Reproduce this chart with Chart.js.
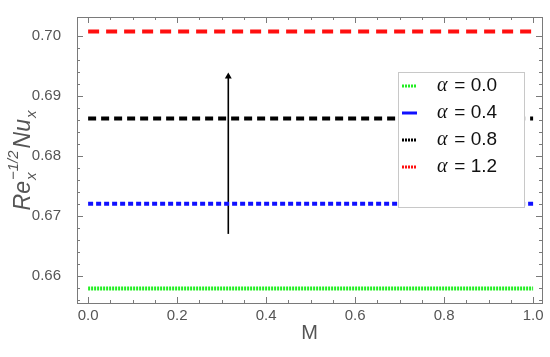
<!DOCTYPE html>
<html>
<head>
<meta charset="utf-8">
<script src="https://cdn.jsdelivr.net/npm/chart.js@4.4.0/dist/chart.umd.min.js"></script>
<style>
  html, body { margin: 0; padding: 0; background: #fff; }
  #wrap { width: 550px; height: 357px; }
</style>
</head>
<body>
<div id="wrap"><canvas id="chart"></canvas></div>
<script>
// values
const mValues = [0, 1];
const alphaLabels = ['α = 0.0', 'α = 0.4', 'α = 0.8', 'α = 1.2'];
const nuAlpha00 = [0.6579, 0.6579];
const nuAlpha04 = [0.6720, 0.6720];
const nuAlpha08 = [0.6862, 0.6862];
const nuAlpha12 = [0.7007, 0.7007];
const arrowM = [0.315, 0.315];
const arrowNu = [0.6670, 0.6932];
const xTicks = [0, 0.2, 0.4, 0.6, 0.8, 1.0];
const yTicks = [0.66, 0.67, 0.68, 0.69, 0.70];

const colors = ['#22ee22', '#1010ff', '#000000', '#ff0f0f'];
const dashes = [[2, 1], [5, 3], [8, 5], [11, 7]];
const legendDashes = [[2, 1], [], [2, 1], [2, 1]];
const series = [nuAlpha00, nuAlpha04, nuAlpha08, nuAlpha12];

const pts = (xs, ys) => xs.map((x, i) => ({ x, y: ys[i] }));

const datasets = series.map((s, i) => ({
  label: alphaLabels[i],
  data: pts(mValues, s),
  borderColor: colors[i],
  borderWidth: 4,
  borderDash: dashes[i],
  pointRadius: 0,
  fill: false
}));
datasets.push({
  label: 'arrow',
  data: pts(arrowM, arrowNu),
  borderColor: '#000',
  backgroundColor: '#000',
  borderWidth: 1.6,
  pointStyle: 'triangle',
  pointRadius: [0, 4],
  pointBorderWidth: 0
});

const GREY = '#7a7a7a';
const TXT = '#555';
const SANS = '"Liberation Sans", Arial, sans-serif';

const framePlugin = {
  id: 'frame',
  afterDraw(chart) {
    const { ctx, chartArea: a, scales: { x, y } } = chart;
    ctx.save();
    ctx.strokeStyle = GREY;
    ctx.lineWidth = 1;
    ctx.strokeRect(a.left + 0.5, a.top + 0.5, a.right - a.left, a.bottom - a.top);
    // x ticks (inward, both sides)
    for (let v = 0; v <= 1.0001; v += 0.05) {
      const px = Math.round(x.getPixelForValue(v)) + 0.5;
      const major = Math.abs(v / 0.2 - Math.round(v / 0.2)) < 1e-6;
      const len = major ? 6 : 3;
      ctx.beginPath();
      ctx.moveTo(px, a.bottom); ctx.lineTo(px, a.bottom - len);
      ctx.moveTo(px, a.top); ctx.lineTo(px, a.top + len);
      ctx.stroke();
    }
    for (let k = 0; k <= 22; k++) {
      const v = 0.656 + k * 0.002;
      if (v > y.max) break;
      const py = Math.round(y.getPixelForValue(v)) + 0.5;
      const major = k % 5 === 2;
      const len = major ? 6 : 3;
      ctx.beginPath();
      ctx.moveTo(a.left, py); ctx.lineTo(a.left + len, py);
      ctx.moveTo(a.right, py); ctx.lineTo(a.right - len, py);
      ctx.stroke();
    }
    // y title: Re_x^{-1/2} Nu_x
    ctx.translate(24, 161);
    ctx.rotate(-Math.PI / 2);
    ctx.fillStyle = TXT;
    ctx.textBaseline = 'middle';
    ctx.textAlign = 'left';
    const big = 'italic 23px ' + SANS;
    const small = 'italic 15px ' + SANS;
    ctx.font = big;
    const wRe = ctx.measureText('Re').width, wNu = ctx.measureText('Nu').width;
    ctx.font = small;
    const wSup = ctx.measureText('−1/2').width, wX = ctx.measureText('x').width;
    const total = wRe + wSup + 3 + wNu + wX;
    let cx = -total / 2;
    ctx.font = big; ctx.fillText('Re', cx, 0); cx += wRe;
    ctx.font = small;
    ctx.fillText('x', cx + 1, 8);
    ctx.fillText('−1/2', cx + 1, -10);
    cx += wSup + 3;
    ctx.font = big; ctx.fillText('Nu', cx, 0); cx += wNu;
    ctx.font = small; ctx.fillText('x', cx + 1, 8);
    ctx.restore();

    // legend box
    ctx.save();
    const lx = 398, ly = 72, lw = 126, lh = 135;
    ctx.fillStyle = '#fff';
    ctx.fillRect(lx, ly, lw, lh);
    ctx.strokeStyle = '#c8c8c8';
    ctx.lineWidth = 1;
    ctx.strokeRect(lx + 0.5, ly + 0.5, lw, lh);
    alphaLabels.forEach((lab, i) => {
      const yy = ly + 14 + i * 27;
      ctx.strokeStyle = colors[i];
      ctx.lineWidth = 3;
      ctx.setLineDash(legendDashes[i]);
      ctx.beginPath();
      ctx.moveTo(lx + 4, yy); ctx.lineTo(lx + 19, yy);
      ctx.stroke();
      ctx.setLineDash([]);
      ctx.fillStyle = '#111';
      ctx.textBaseline = 'middle';
      ctx.font = 'italic 20px "Liberation Serif", serif';
      ctx.fillText('α', lx + 39, yy);
      ctx.font = '19px ' + SANS;
      ctx.fillText(lab.slice(1), lx + 51, yy);
    });
    ctx.restore();
  }
};

new Chart(document.getElementById('chart'), {
  type: 'line',
  data: { datasets },
  options: {
    responsive: true,
    maintainAspectRatio: false,
    animation: false,
    layout: { padding: { top: 14, right: 8, left: 0, bottom: 12 } },
    plugins: { legend: { display: false }, tooltip: { enabled: false } },
    scales: {
      x: {
        type: 'linear',
        min: -0.025, max: 1.02,
        grid: { display: false },
        border: { display: false },
        afterBuildTicks: s => { s.ticks = xTicks.map(v => ({ value: v })); },
        afterFit: s => { s.height = 42; },
        ticks: {
          color: TXT, padding: -4,
          font: { family: SANS, size: 15 },
          callback: v => Number(v).toFixed(1),
          maxRotation: 0
        },
        title: {
          display: true, text: 'M', color: TXT, padding: { top: 0, bottom: 0 },
          font: { family: SANS, size: 20 }
        }
      },
      y: {
        min: 0.6555, max: 0.7031,
        grid: { display: false },
        border: { display: false },
        afterBuildTicks: s => { s.ticks = yTicks.map(v => ({ value: v })); },
        afterFit: s => { s.width = 77; },
        ticks: {
          color: TXT, padding: 8,
          font: { family: SANS, size: 15 },
          callback: v => Number(v).toFixed(2)
        }
      }
    }
  },
  plugins: [framePlugin]
});
</script>
</body>
</html>
